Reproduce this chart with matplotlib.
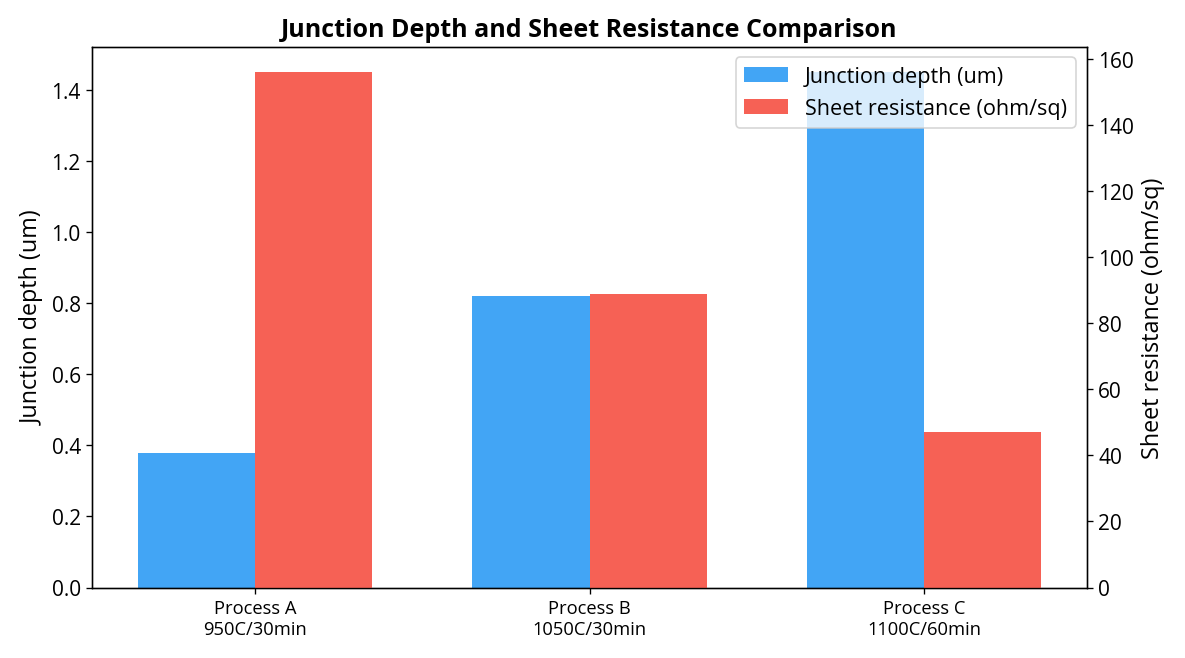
import matplotlib
matplotlib.use('Agg')
import matplotlib.pyplot as plt
import numpy as np

plt.rcParams['font.family'] = ['Open Sans', 'Noto Sans', 'DejaVu Sans']

processes = ['Process A\n950C/30min', 'Process B\n1050C/30min', 'Process C\n1100C/60min']
junction_depth = [0.38, 0.82, 1.45]
sheet_resistance = [156, 89, 47]

x = np.arange(len(processes))
width = 0.35

fig, ax1 = plt.subplots(figsize=(9.875, 5.49), dpi=120)
ax2 = ax1.twinx()

b1 = ax1.bar(x - width / 2, junction_depth, width, color='#42A5F5', label='Junction depth (um)')
b2 = ax2.bar(x + width / 2, sheet_resistance, width, color='#F66155', label='Sheet resistance (ohm/sq)')

ax1.set_ylim(0, max(junction_depth) * 1.05)
ax2.set_ylim(0, max(sheet_resistance) * 1.05)

ax1.set_xticks(x)
ax1.set_xticklabels(processes, fontsize=11)
ax1.tick_params(axis='y', labelsize=12.5)
ax2.tick_params(axis='y', labelsize=12.5)
ax1.set_ylabel('Junction depth (um)', fontsize=14)
ax2.set_ylabel('Sheet resistance (ohm/sq)', fontsize=14)
ax1.set_title('Junction Depth and Sheet Resistance Comparison', fontsize=15, fontweight='bold')

ax1.legend([b1, b2], [b1.get_label(), b2.get_label()], loc='upper right', fontsize=13)

fig.subplots_adjust(left=0.078, right=0.917, top=0.928, bottom=0.107)
fig.savefig('out.png', dpi=120)
